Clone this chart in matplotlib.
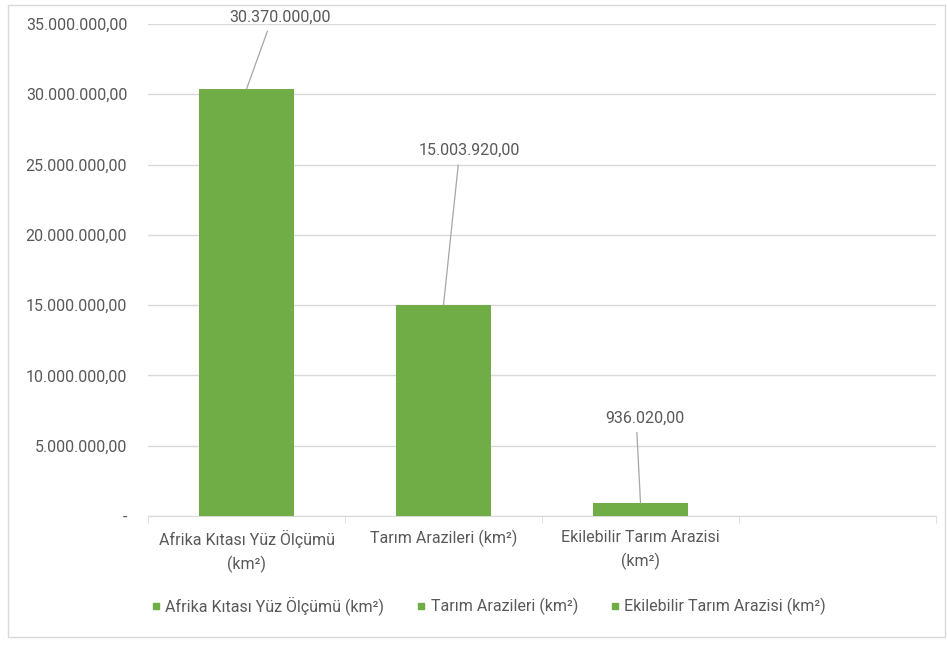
import matplotlib.pyplot as plt
from matplotlib.lines import Line2D
from matplotlib.patches import Rectangle
from matplotlib.ticker import FuncFormatter, MultipleLocator

plt.rcParams['font.family'] = ['Roboto', 'DejaVu Sans']

# data
categories = ['Afrika Kıtası Yüz Ölçümü\n(km²)', 'Tarım Arazileri (km²)',
              'Ekilebilir Tarım Arazisi\n(km²)', '']
legend_names = ['Afrika Kıtası Yüz Ölçümü (km²)', 'Tarım Arazileri (km²)',
                'Ekilebilir Tarım Arazisi (km²)']
values = [30370000.00, 15003920.00, 936020.00]
# where the data labels sit (x in category units, y in value units)
label_x = [0.17, 1.13, 2.02]
label_y = [35.5e6, 26.0e6, 6.97e6]

green = '#70AD47'
txt = '#595959'
grid = '#D9D9D9'
fs = 11.5


def tr_fmt(v):
    s = f'{v:,.2f}'
    return s.replace(',', 'X').replace('.', ',').replace('X', '.')


fig = plt.figure(figsize=(9.47, 6.46), dpi=100)
ax = fig.add_axes([148 / 947, 130 / 646, 788 / 947, 492 / 646])

x = list(range(len(values)))
ax.bar(x, values, width=0.48, color=green, zorder=3)

ax.set_xlim(-0.5, 3.5)
ax.set_ylim(0, 35e6)
ax.yaxis.set_major_locator(MultipleLocator(5e6))
ax.yaxis.set_major_formatter(FuncFormatter(lambda v, p: '-' if v == 0 else tr_fmt(v)))
ax.grid(axis='y', color=grid, linewidth=1, zorder=0)

ax.set_xticks(range(len(categories)))
ax.set_xticklabels(categories, color=txt, fontsize=fs, linespacing=1.6)
ax.set_xticks([-0.5, 0.5, 1.5, 2.5, 3.5], minor=True)
ax.tick_params(axis='x', which='major', length=0, pad=10)
ax.tick_params(axis='x', which='minor', length=5, color=grid)
ax.tick_params(axis='y', length=0, pad=15, labelcolor=txt, labelsize=fs)

for s in ['top', 'right', 'left']:
    ax.spines[s].set_visible(False)
ax.spines['bottom'].set_color(grid)

for i, v in enumerate(values):
    ax.annotate(tr_fmt(v), xy=(i, v), xytext=(label_x[i], label_y[i]),
                ha='center', va='center', color=txt, fontsize=fs,
                arrowprops=dict(arrowstyle='-', color='#A6A6A6', lw=0.9,
                                shrinkA=3, shrinkB=0, relpos=(0.4, 0.0)))

handles = [Line2D([], [], marker='s', linestyle='none', markersize=4,
                  color=green) for _ in legend_names]
fig.legend(handles, legend_names, loc='center', bbox_to_anchor=(0.515, 0.062),
           ncol=3, frameon=False, fontsize=fs, labelcolor=txt,
           handletextpad=0.2, columnspacing=1.9, handlelength=0.8)

fig.patches.append(Rectangle((8 / 947, 9 / 646), 937 / 947, 632 / 646,
                             transform=fig.transFigure, fill=False,
                             edgecolor=grid, linewidth=1))

fig.savefig('out.png', dpi=100)
